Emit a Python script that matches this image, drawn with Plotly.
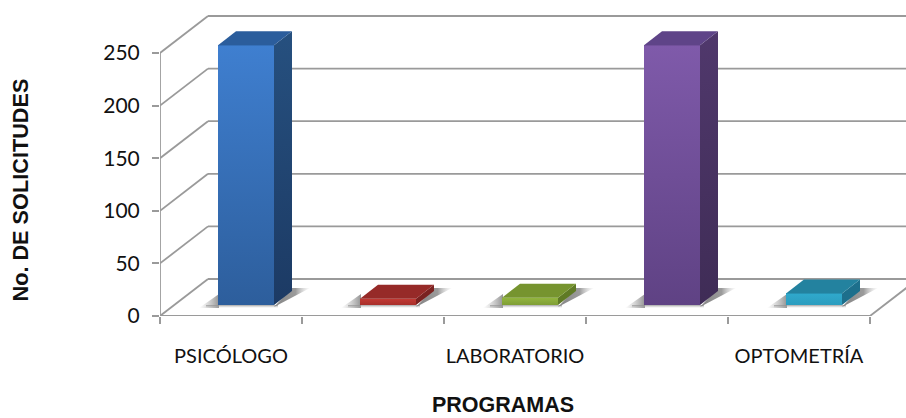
import plotly.graph_objects as go

# --- data ---
categories = ["PSICÓLOGO", "", "LABORATORIO", "", "OPTOMETRÍA"]
values = [247, 6, 7, 247, 11]
y_ticks = [0, 50, 100, 150, 200, 250]

front_top = ["#3f7fd0", "#c23a34", "#93b63f", "#7f5aaa", "#2fa9cc"]
front_bot = ["#2d5e9c", "#a82f2b", "#7f9e35", "#5f4284", "#2c9dbf"]
top_col = ["#2b5d9c", "#962a28", "#76942f", "#5f4488", "#23829f"]
side_top = ["#26507f", "#7a2220", "#5f7a25", "#50386c", "#1d6f8c"]
side_bot = ["#1c3a64", "#7a2220", "#5f7a25", "#3f2c56", "#1d6f8c"]

# --- oblique-projection constants (axis units) ---
PX_X, PX_Y = 142.0, 1.052          # pixels per category, pixels per value unit
WALL_DX, WALL_DY = 48 / PX_X, 37 / PX_Y
BAR_DX, BAR_DY = 18 / PX_X, 14 / PX_Y
FLOOR_Y = 11 / PX_Y
BAR_W = 56 / PX_X
BAR_SHIFT = 15 / PX_X
GRID = "#9a9a9a"
N = len(categories)
X_MAX = (906 - 160) / PX_X
Y_MAX = 316 / PX_Y


def poly(xs, ys, color=None, gradient=None):
    kw = dict(fillgradient=gradient) if gradient else dict(fillcolor=color)
    return go.Scatter(x=xs + xs[:1], y=ys + ys[:1], mode="lines", fill="toself",
                      line=dict(width=0, color="rgba(0,0,0,0)"),
                      hoverinfo="skip", showlegend=False, **kw)


fig = go.Figure()
shapes = []


def seg(x0, y0, x1, y1, color=GRID, width=1.8):
    shapes.append(dict(type="line", xref="x", yref="y", layer="below", x0=x0, y0=y0,
                       x1=x1, y1=y1, line=dict(color=color, width=width)))


for v in y_ticks:
    seg(0, v, WALL_DX, v + WALL_DY)
    seg(WALL_DX, v + WALL_DY, X_MAX + 1, v + WALL_DY)
seg(0, 0, 0, y_ticks[-1])
seg(0, 0, N, 0)
seg(N, 0, N + WALL_DX, WALL_DY)

lefts = [i + 0.5 + BAR_SHIFT - BAR_W / 2 for i in range(N)]
rights = [l + BAR_W for l in lefts]

# front faces, from the values
fig.add_trace(go.Bar(
    x=[i + 0.5 + BAR_SHIFT for i in range(N)], y=values, base=[FLOOR_Y] * N, width=BAR_W,
    marker=dict(color=front_bot, line=dict(width=0)), showlegend=False,
    hovertext=categories, hoverinfo="text+y"))

for i, v in enumerate(values):
    l, r = lefts[i], rights[i]
    b, t = FLOOR_Y, FLOOR_Y + v
    low = b - 3 / PX_Y
    # soft floor shadows
    fig.add_trace(poly([l - 19 / PX_X, l + 1 / PX_X, l + 1 / PX_X],
                       [low, low, b + 11 / PX_Y],
                       gradient=dict(type="horizontal", colorscale=[[0, "rgba(170,170,170,0)"], [1, "rgba(120,120,120,0.8)"]])))
    fig.add_trace(poly([l - 12 / PX_X, r + 4 / PX_X, r + 4 / PX_X, l - 12 / PX_X], [low, low, b, b],
                       gradient=dict(type="vertical", colorscale=[[0, "rgba(190,190,190,0)"], [1, "rgba(140,140,140,0.8)"]])))
    fig.add_trace(poly([r, r + BAR_DX, r + 2 * BAR_DX], [low + 1, b + BAR_DY + 3 / PX_Y, b + BAR_DY + 3 / PX_Y],
                       gradient=dict(type="horizontal", colorscale=[[0, "rgba(110,110,110,0.85)"], [0.6, "rgba(130,130,130,0.8)"], [1, "rgba(200,200,200,0.05)"]])))
    # gradient on the front face
    fig.add_trace(poly([l, r, r, l], [b, b, t, t],
                       gradient=dict(type="vertical", colorscale=[[0, front_bot[i]], [1, front_top[i]]])))
    # side and top faces
    fig.add_trace(poly([r, r + BAR_DX, r + BAR_DX, r], [b, b + BAR_DY, t + BAR_DY, t],
                       gradient=dict(type="vertical", colorscale=[[0, side_bot[i]], [1, side_top[i]]])))
    fig.add_trace(poly([l, r, r + BAR_DX, l + BAR_DX], [t, t, t + BAR_DY, t + BAR_DY], color=top_col[i]))

LABEL_POS = [i + 0.5 for i, c in enumerate(categories) if c]
fig.update_layout(
    width=906, height=418, margin=dict(l=160, r=0, t=0, b=102),
    paper_bgcolor="white", plot_bgcolor="white", showlegend=False, bargap=0, shapes=shapes,
    xaxis=dict(range=[0, X_MAX], showgrid=False, zeroline=False, showline=False,
               tickmode="array", tickvals=LABEL_POS, ticktext=[c for c in categories if c],
               ticks="", ticklabelstandoff=26, tickfont=dict(family="Lato", size=20, color="#111"),
               minor=dict(tickmode="array", tickvals=list(range(N + 1)), ticks="outside", ticklen=7,
                          tickwidth=1.8, tickcolor=GRID, showgrid=False)),
    yaxis=dict(range=[0, Y_MAX], showgrid=False, zeroline=False, showline=False,
               tickmode="array", tickvals=y_ticks, ticks="outside", ticklen=7, tickwidth=1.8,
               ticklabelstandoff=8, tickcolor=GRID, tickfont=dict(family="Lato", size=21, color="#111")),
    annotations=[
        dict(text="<b>PROGRAMAS</b>", xref="paper", yref="paper", x=(503 - 160) / 746,
             y=(316 - 405) / 316, xanchor="center", yanchor="middle", showarrow=False,
             font=dict(family="Liberation Sans", size=21.5, color="#111")),
        dict(text="<b>No. DE SOLICITUDES</b>", xref="paper", yref="paper", x=(20 - 160) / 746,
             y=(316 - 190.5) / 316, xanchor="center", yanchor="middle", textangle=-90,
             showarrow=False, font=dict(family="Liberation Sans", size=21.7, color="#111")),
    ],
)
fig.write_html("out.html", config=dict(displayModeBar=False),
               post_script="document.body.style.margin='0';document.documentElement.style.overflow='hidden';")
